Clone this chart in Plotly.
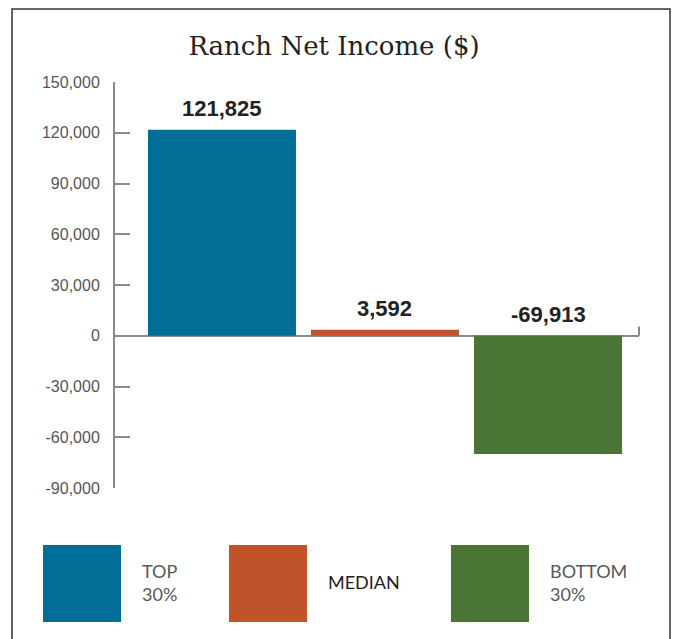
import plotly.graph_objects as go

# data
groups = ["TOP 30%", "MEDIAN", "BOTTOM 30%"]
net_income = [121825, 3592, -69913]
bar_colors = ["#006e96", "#c1532a", "#4a7535"]
legend_labels = ["TOP<br>30%", "MEDIAN", "BOTTOM<br>30%"]
legend_colors = ["#585858", "#1e1e1e", "#585858"]
tick_vals = [150000, 120000, 90000, 60000, 30000, 0, -30000, -60000, -90000]
tick_text = ["150,000", "120,000", "90,000", "60,000", "30,000", "0",
             "-30,000", "-60,000", "-90,000"]

NUM_FONT = "Liberation Sans, Arial, sans-serif"

fig = go.Figure()

fig.add_trace(go.Bar(
    x=groups,
    y=net_income,
    marker=dict(color=bar_colors, line=dict(width=0)),
    width=0.908,
    showlegend=False,
    hoverinfo="x+y",
))

# value labels sit above the bar (or above zero line for negatives)
for g, v in zip(groups, net_income):
    fig.add_annotation(
        x=g, y=max(v, 0), xref="x", yref="y",
        text=f"<b>{v:,}</b>", showarrow=False,
        yanchor="bottom", yshift=7,
        font=dict(family=NUM_FONT, size=22, color="#222222"),
    )

# legend blocks drawn by hand (large swatches)
W, H = 674, 639
L, R, T, B = 115, 35, 82, 151
pw, ph = W - L - R, H - T - B


def px_x(p):
    return (p - L) / pw


def px_y(p):
    return (H - B - p) / ph


swatch_left = [43, 229, 451]
for xl, col, lab, lc in zip(swatch_left, bar_colors, legend_labels, legend_colors):
    fig.add_shape(type="rect", xref="paper", yref="paper",
                  x0=px_x(xl), x1=px_x(xl + 78), y0=px_y(622), y1=px_y(545),
                  fillcolor=col, line=dict(width=0))
    fig.add_annotation(
        x=px_x(xl + 97), y=px_y(582), xref="paper", yref="paper",
        text=lab, showarrow=False, xanchor="left", yanchor="middle", align="left",
        font=dict(family="Lato, Open Sans, sans-serif", size=18, color=lc),
    )

# outer frame
fig.add_shape(type="rect", xref="paper", yref="paper",
              x0=px_x(12), x1=px_x(670), y0=px_y(660), y1=px_y(9),
              line=dict(color="#333333", width=1.5), fillcolor="rgba(0,0,0,0)")

# little end tick on the zero line
fig.add_shape(type="line", xref="paper", yref="y",
              x0=1, x1=1, y0=0, y1=5500,
              line=dict(color="#8a8a8a", width=2))

fig.update_layout(
    width=W, height=H,
    margin=dict(l=L, r=R, t=T, b=B),
    paper_bgcolor="white", plot_bgcolor="white",
    title=dict(
        text="Ranch Net Income ($)",
        x=334 / W, xref="container", xanchor="center",
        y=1 - 46 / H, yref="container", yanchor="middle",
        font=dict(family="DejaVu Serif, serif", size=26, color="#222222"),
    ),
    bargap=0.092,
    xaxis=dict(
        range=[-0.656, 2.558],
        showticklabels=False, showline=False, showgrid=False, ticks="",
        zeroline=False,
    ),
    yaxis=dict(
        range=[-90000, 150000],
        tickvals=tick_vals,
        ticktext=tick_text,
        ticks="inside", ticklen=15, tickwidth=2, tickcolor="#8a8a8a",
        showline=True, linecolor="#8a8a8a", linewidth=2,
        showgrid=False,
        zeroline=True, zerolinecolor="#8a8a8a", zerolinewidth=2,
        ticklabelstandoff=10,
        tickfont=dict(family=NUM_FONT, size=16, color="#555555"),
    ),
)

fig.write_html("out.html", config={"displayModeBar": False},
               post_script="document.body.style.margin='0';")
